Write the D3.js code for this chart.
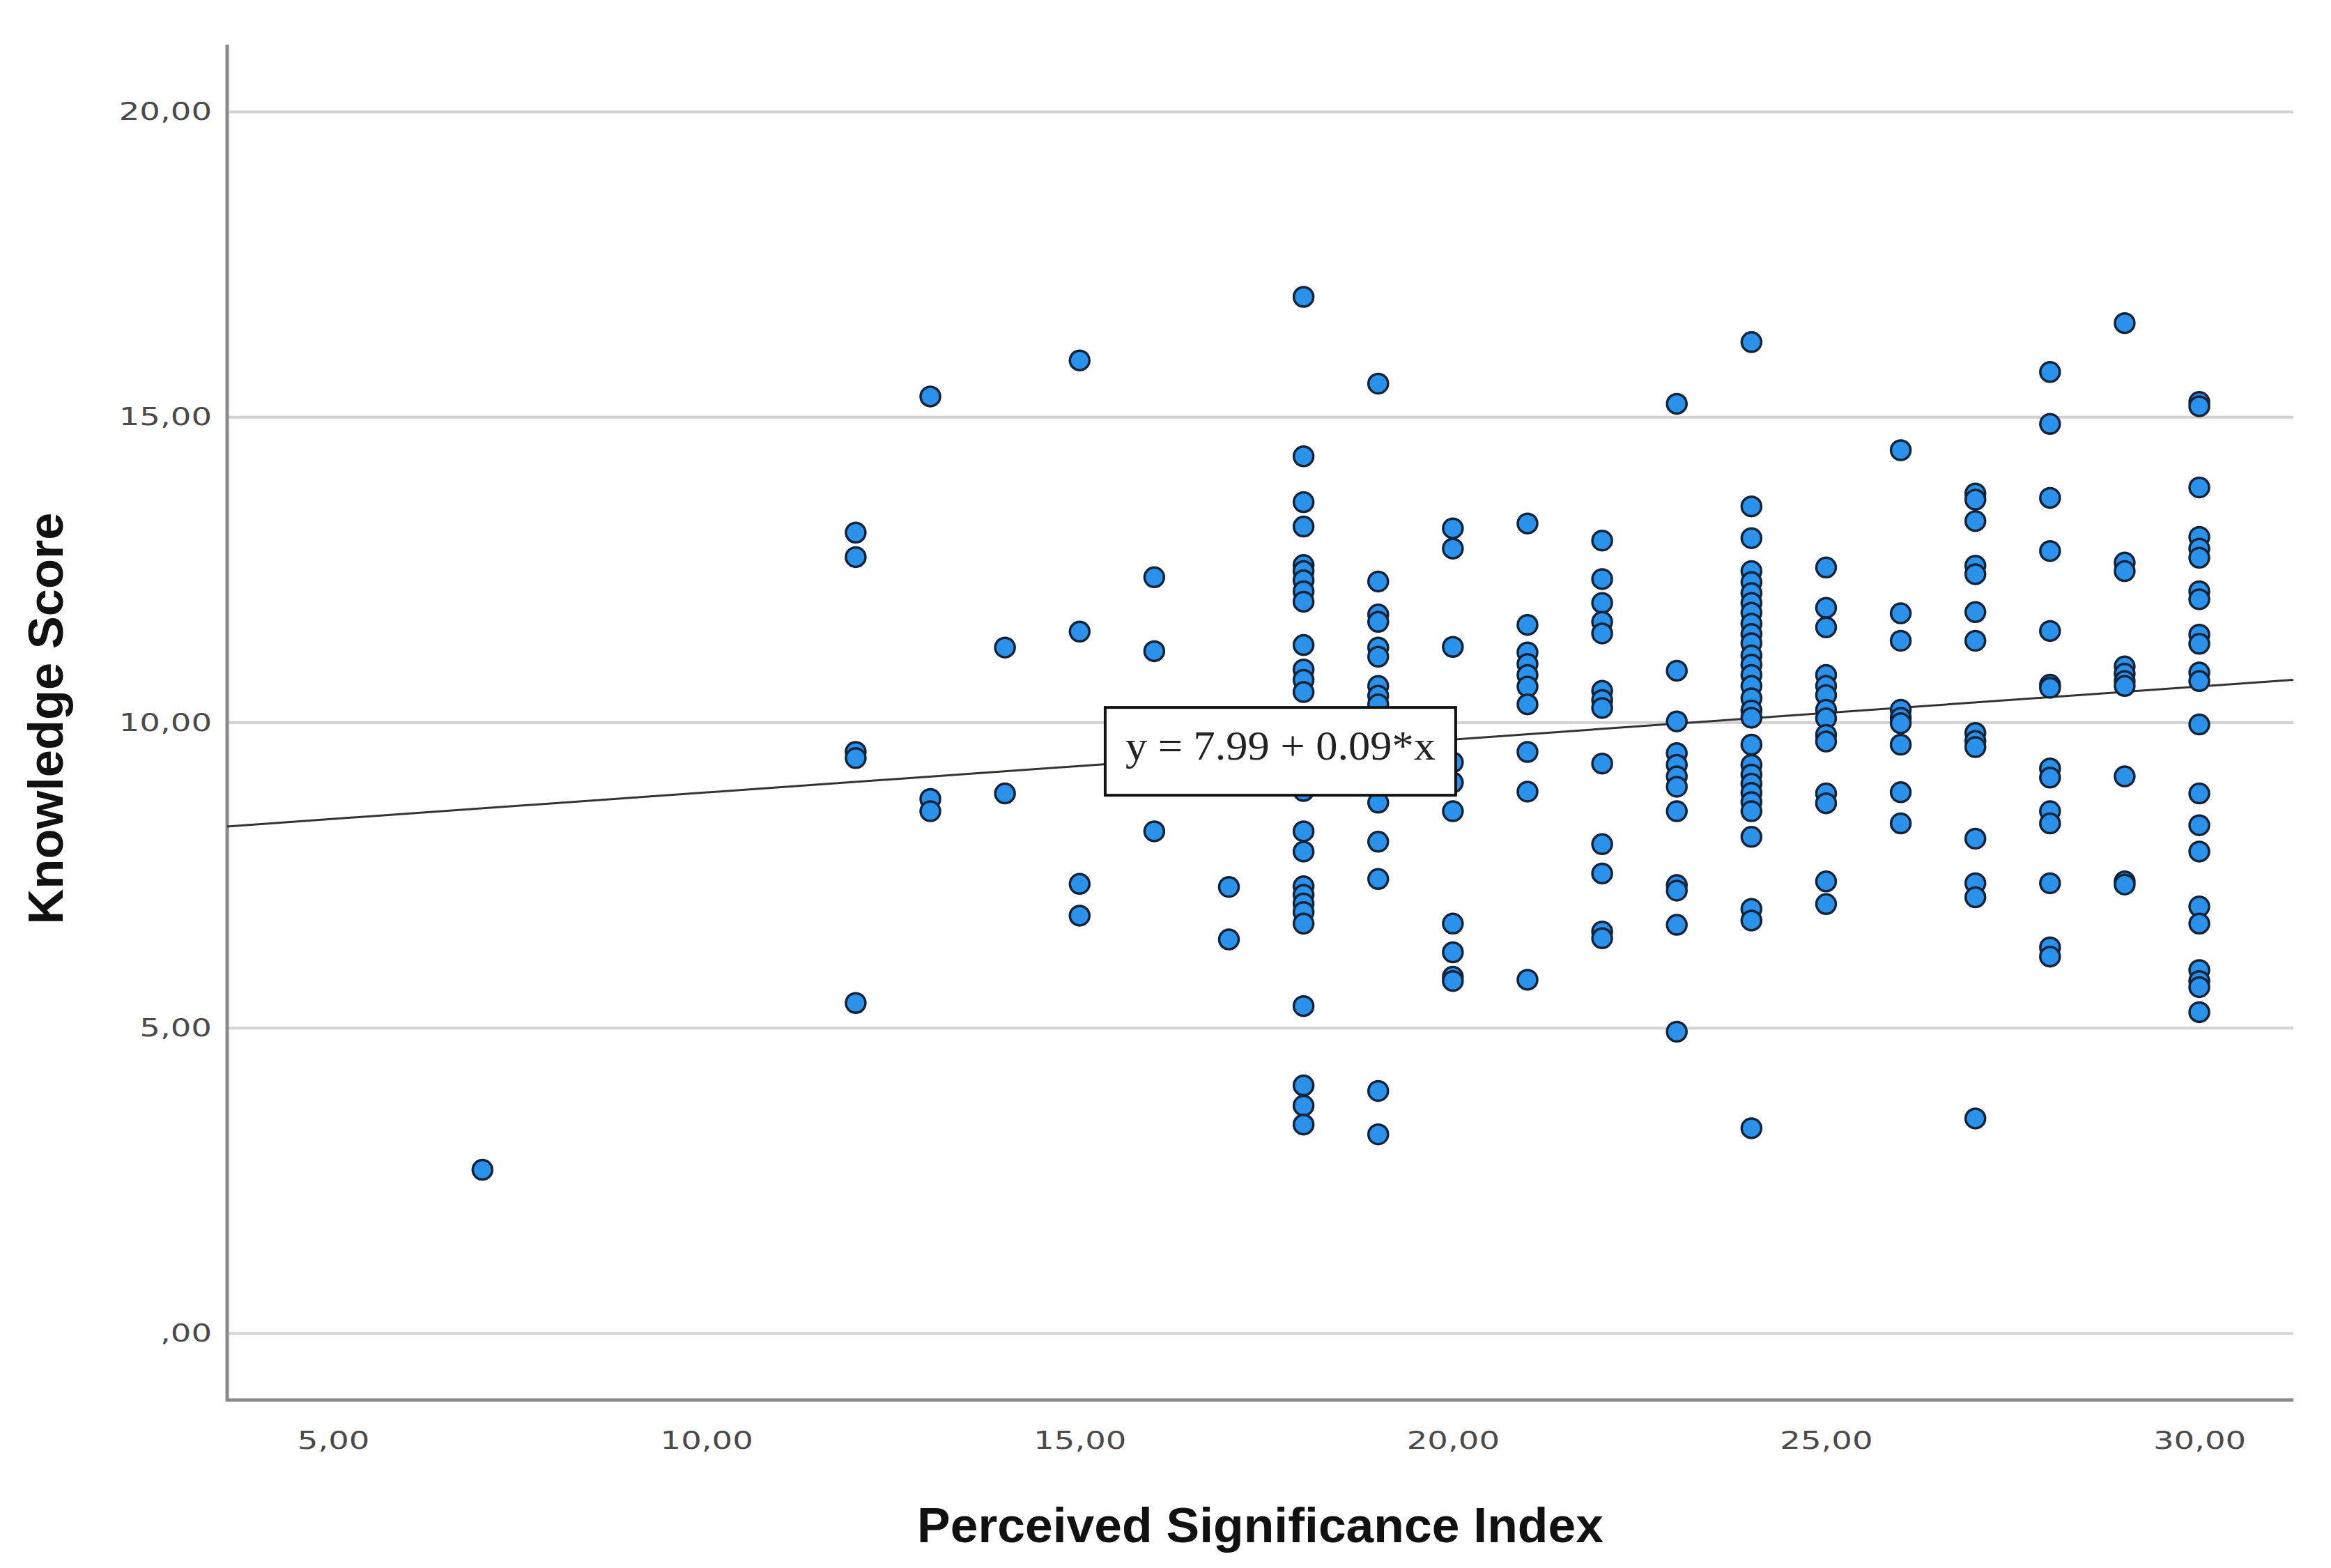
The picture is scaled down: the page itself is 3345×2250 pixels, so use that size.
<!DOCTYPE html>
<html>
<head>
<meta charset="utf-8">
<script src="https://cdn.jsdelivr.net/npm/d3@7"></script>
<style>
  html, body { margin: 0; padding: 0; background: #ffffff; }
  svg { display: block; }
</style>
</head>
<body>
<svg id="chart" width="3345" height="2250"></svg>
<script>
// ---------- data ----------
const xColumns = [7, 12, 13, 14, 15, 16, 17, 18, 19, 20, 21, 22, 23, 24, 25, 26, 27, 28, 29, 30];
const scoresByColumn = [
  [2.68],
  [13.11, 12.71, 9.52, 9.42, 5.41],
  [15.34, 8.75, 8.55],
  [11.23, 8.84],
  [15.93, 11.49, 7.36, 6.84],
  [12.38, 11.17, 8.22],
  [7.31, 6.45],
  [16.97, 14.36, 13.61, 13.21, 12.58, 12.48, 12.33, 12.15, 11.98, 11.27, 10.87, 10.7, 10.5, 8.88, 8.22, 7.89, 7.32, 7.18, 7.04, 6.9, 6.71, 5.36, 4.06, 3.73, 3.42],
  [15.55, 12.31, 11.77, 11.65, 11.23, 11.08, 10.6, 10.44, 10.3, 8.69, 8.05, 7.44, 3.97, 3.26],
  [13.18, 12.85, 11.24, 9.35, 9.02, 8.55, 6.71, 6.24, 5.84, 5.77],
  [13.26, 11.6, 11.15, 10.96, 10.78, 10.59, 10.3, 9.52, 8.87, 5.79],
  [12.98, 12.35, 11.96, 11.65, 11.46, 10.52, 10.37, 10.24, 9.33, 8.01, 7.53, 6.58, 6.47],
  [15.22, 10.85, 10.02, 9.5, 9.31, 9.12, 8.95, 8.55, 7.34, 7.25, 6.69, 4.94],
  [16.23, 13.54, 13.02, 12.48, 12.3, 12.12, 11.96, 11.8, 11.62, 11.45, 11.3, 11.1, 10.95, 10.78, 10.6, 10.4, 10.2, 10.08, 9.64, 9.31, 9.15, 9.0, 8.85, 8.7, 8.55, 8.13, 6.95, 6.76, 3.36],
  [12.54, 11.88, 11.56, 10.78, 10.6, 10.45, 10.21, 10.07, 9.8, 9.69, 8.84, 8.68, 7.4, 7.03],
  [14.46, 11.79, 11.34, 10.21, 10.08, 9.99, 9.64, 8.86, 8.35],
  [13.75, 13.65, 13.3, 12.57, 12.43, 11.81, 11.34, 9.83, 9.7, 9.6, 8.1, 7.37, 7.14, 3.52],
  [15.74, 14.89, 13.68, 12.81, 11.5, 10.62, 10.57, 9.25, 9.1, 8.55, 8.35, 7.37, 6.32, 6.17],
  [16.54, 12.62, 12.48, 10.92, 10.8, 10.68, 10.6, 9.12, 7.4, 7.35],
  [15.25, 15.18, 13.85, 13.04, 12.85, 12.7, 12.15, 12.02, 11.44, 11.29, 10.82, 10.68, 9.97, 8.84, 8.32, 7.89, 6.99, 6.71, 5.95, 5.77, 5.67, 5.26]
];
const xTicks = [5, 10, 15, 20, 25, 30];
const yTicks = [0, 5, 10, 15, 20];
const xDomain = [3.58, 31.26];
const yDomain = [-1.09, 21.1];
const fitIntercept = 7.99;
const fitSlope = 0.0867;
const fitLabel = "y = 7.99 + 0.09*x";
const fitLabelAt = [17.69, 9.53];   // label centre, data units
const xTitle = "Perceived Significance Index";
const yTitle = "Knowledge Score";

// ---------- layout ----------
const plotLeft = 326, plotRight = 3291, plotTop = 64, plotBottom = 2009;
const svg = d3.select("#chart");
svg.append("rect").attr("width", 3345).attr("height", 2250).attr("fill", "#ffffff");

const x = d3.scaleLinear().domain(xDomain).range([plotLeft, plotRight]);
const y = d3.scaleLinear().domain(yDomain).range([plotBottom, plotTop]);

const fmt = v => v === 0 ? ",00" : d3.format(".2f")(v).replace(".", ",");

// gridlines
svg.append("g").selectAll("line").data(yTicks).join("line")
  .attr("x1", plotLeft).attr("x2", plotRight)
  .attr("y1", d => y(d)).attr("y2", d => y(d))
  .attr("stroke", "#d2d2d2").attr("stroke-width", 4);

// y axis
const gy = svg.append("g").attr("transform", `translate(${plotLeft},0)`)
  .call(d3.axisLeft(y).tickValues(yTicks).tickSize(0).tickPadding(22).tickFormat(fmt));
gy.select(".domain").remove();
gy.selectAll("text")
  .attr("font-family", "DejaVu Sans, Verdana, sans-serif")
  .attr("font-size", 35).attr("fill", "#4a4a4a");

// x axis
const gx = svg.append("g").attr("transform", `translate(0,${plotBottom})`)
  .call(d3.axisBottom(x).tickValues(xTicks).tickSize(0).tickPadding(45).tickFormat(fmt));
gx.select(".domain").remove();
gx.selectAll("text")
  .attr("font-family", "DejaVu Sans, Verdana, sans-serif")
  .attr("font-size", 35).attr("fill", "#4a4a4a");

// widen tick labels like the reference
svg.selectAll(".tick text").each(function() {
  const w = this.getComputedTextLength();
  d3.select(this).attr("textLength", w * 1.33).attr("lengthAdjust", "spacingAndGlyphs");
});

// axis lines
svg.append("line").attr("x1", plotLeft).attr("x2", plotLeft).attr("y1", plotTop).attr("y2", plotBottom + 2)
  .attr("stroke", "#8a8a8a").attr("stroke-width", 5);
svg.append("line").attr("x1", plotLeft - 2).attr("x2", plotRight).attr("y1", plotBottom).attr("y2", plotBottom)
  .attr("stroke", "#8a8a8a").attr("stroke-width", 5);

// regression line
svg.append("line")
  .attr("x1", x(xDomain[0])).attr("y1", y(fitIntercept + fitSlope * xDomain[0]))
  .attr("x2", x(xDomain[1])).attr("y2", y(fitIntercept + fitSlope * xDomain[1]))
  .attr("stroke", "#333333").attr("stroke-width", 3);

// points
const points = [];
xColumns.forEach((c, i) => scoresByColumn[i].forEach(s => points.push({ x: c, y: s })));
svg.append("g").selectAll("circle").data(points).join("circle")
  .attr("cx", d => x(d.x)).attr("cy", d => y(d.y)).attr("r", 14)
  .attr("fill", "#2a92ea").attr("stroke", "#13233a").attr("stroke-width", 3.5);

// equation label
const bw = 503, bh = 126;
const lx = x(fitLabelAt[0]), ly = y(fitLabelAt[1]);
svg.append("rect").attr("x", lx - bw / 2).attr("y", ly - bh / 2).attr("width", bw).attr("height", bh)
  .attr("fill", "#ffffff").attr("stroke", "#111111").attr("stroke-width", 4);
svg.append("text").attr("x", lx).attr("y", ly + 12)
  .attr("text-anchor", "middle")
  .attr("font-family", "Liberation Serif, Times New Roman, serif")
  .attr("font-size", 60).attr("fill", "#222222")
  .attr("textLength", 445).attr("lengthAdjust", "spacingAndGlyphs")
  .text(fitLabel);

// axis titles
svg.append("text").attr("x", (plotLeft + plotRight) / 2).attr("y", 2213)
  .attr("text-anchor", "middle")
  .attr("font-family", "Liberation Sans, Arial, sans-serif").attr("font-weight", "bold")
  .attr("font-size", 70).attr("fill", "#111111")
  .attr("textLength", 985).attr("lengthAdjust", "spacingAndGlyphs")
  .text(xTitle);
svg.append("text").attr("transform", `translate(90,1031) rotate(-90)`)
  .attr("text-anchor", "middle")
  .attr("font-family", "Liberation Sans, Arial, sans-serif").attr("font-weight", "bold")
  .attr("font-size", 70).attr("fill", "#111111")
  .attr("textLength", 591).attr("lengthAdjust", "spacingAndGlyphs")
  .text(yTitle);
</script>
</body>
</html>
